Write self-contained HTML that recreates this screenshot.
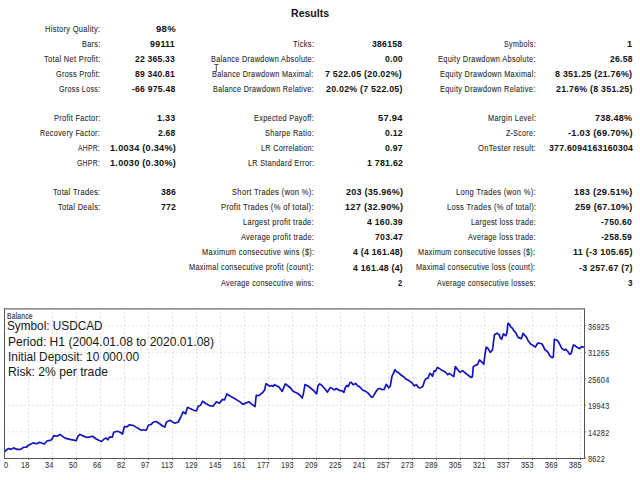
<!DOCTYPE html>
<html><head><meta charset="utf-8"><style>
html,body{margin:0;padding:0;background:#fff;width:640px;height:480px;overflow:hidden;position:relative}
.t{position:absolute;white-space:nowrap;line-height:20px;font-family:"Liberation Sans",sans-serif;transform-origin:0 50%}
</style></head><body>
<svg width="640" height="480" style="position:absolute;left:0;top:0">
<g stroke="#d8d8d8" stroke-width="1" stroke-dasharray="1.6 2.4"><line x1="28.5" y1="308.5" x2="28.5" y2="458.5"/><line x1="52.5" y1="308.5" x2="52.5" y2="458.5"/><line x1="76.5" y1="308.5" x2="76.5" y2="458.5"/><line x1="100.5" y1="308.5" x2="100.5" y2="458.5"/><line x1="124.5" y1="308.5" x2="124.5" y2="458.5"/><line x1="148.5" y1="308.5" x2="148.5" y2="458.5"/><line x1="172.5" y1="308.5" x2="172.5" y2="458.5"/><line x1="196.5" y1="308.5" x2="196.5" y2="458.5"/><line x1="220.5" y1="308.5" x2="220.5" y2="458.5"/><line x1="244.5" y1="308.5" x2="244.5" y2="458.5"/><line x1="268.5" y1="308.5" x2="268.5" y2="458.5"/><line x1="292.5" y1="308.5" x2="292.5" y2="458.5"/><line x1="316.5" y1="308.5" x2="316.5" y2="458.5"/><line x1="340.5" y1="308.5" x2="340.5" y2="458.5"/><line x1="364.5" y1="308.5" x2="364.5" y2="458.5"/><line x1="388.5" y1="308.5" x2="388.5" y2="458.5"/><line x1="412.5" y1="308.5" x2="412.5" y2="458.5"/><line x1="436.5" y1="308.5" x2="436.5" y2="458.5"/><line x1="460.5" y1="308.5" x2="460.5" y2="458.5"/><line x1="484.5" y1="308.5" x2="484.5" y2="458.5"/><line x1="508.5" y1="308.5" x2="508.5" y2="458.5"/><line x1="532.5" y1="308.5" x2="532.5" y2="458.5"/><line x1="556.5" y1="308.5" x2="556.5" y2="458.5"/><line x1="580.5" y1="308.5" x2="580.5" y2="458.5"/><line x1="4.5" y1="325.8" x2="584.5" y2="325.8"/><line x1="4.5" y1="352.3" x2="584.5" y2="352.3"/><line x1="4.5" y1="378.8" x2="584.5" y2="378.8"/><line x1="4.5" y1="405.3" x2="584.5" y2="405.3"/><line x1="4.5" y1="431.8" x2="584.5" y2="431.8"/></g>
<polyline points="4.5,451.9 6.25,450 8.75,448.5 11.25,449.4 13.5,447.9 16.9,449.4 20.6,449.4 23.75,447.25 26.25,447.25 28.75,445 33.1,442.9 36.9,443.75 39.4,442.25 44.4,444 46.9,441 50,440.4 51.9,439.4 53.75,435.6 56.9,436.25 60,434.4 65,438.1 70,439.4 75,440.4 76.25,440.6 78.1,436 80,434.4 82.5,435.6 86.9,437.5 90,436.9 92.5,436.25 96.25,439 98.75,440.25 101.5,441.5 104.4,438.75 106.25,438.1 107.75,439.75 109.75,436.9 112.25,437.25 113.75,432.25 117.5,431.25 120,432.25 122.5,434 124.4,426.5 126.9,426.9 129.4,424.75 133.75,425.6 137.5,428.1 141.25,430.25 143.75,429.75 146.25,430.25 148.5,425 151.25,424.4 153.1,422.25 156.25,421.5 160,424 162.5,426 164.75,427.1 166.5,421.9 170,420.25 174.4,423.1 178.1,422.25 180.6,417.5 183.1,411.9 185.6,413.75 187.5,407.25 190.6,408.75 193.75,410.25 196.5,411 198.1,406.25 200.6,405.25 202.5,401.25 206.25,403.75 209.4,405.6 213.1,406.25 216.25,401.9 219.4,403.1 222.5,399.4 224.4,400 226.9,394 230,396 235,398.75 240,401.9 243.1,404.4 245.6,403.1 249,401.9 251.9,404.4 255,406.5 256.25,395.25 258.75,395.6 260,394.6 262.5,392.7 264.7,389.9 265.9,383.9 267.2,384.25 269.4,386.1 271.6,385.5 273.1,386.4 274.7,384.6 276.9,386.1 278.75,386.75 282.2,391.4 285.3,383.9 287.5,385.5 290.6,388 292.8,391.1 295.6,392.4 297.5,393.3 300,395.2 302.2,398 303.4,393.6 305,384.6 307.5,385.8 310.6,388 314.1,391.1 316.6,393.9 318.1,385.5 319.7,383.9 321.6,385.2 324.4,388.3 327.5,392.1 330.3,387.4 334.1,389.9 336.25,388.6 340,390.7 342.2,390.9 343.9,392.4 345.3,387.6 346.9,385.5 348.1,386.6 350,382.6 351.25,382.25 353.1,384.75 355.6,383.4 357.8,386 359.4,386.6 363.1,390.5 365,390.9 367.8,392.9 371.6,397.25 372.8,396.9 376.25,391.3 378.1,388.8 380,388.5 381.9,389.6 384.1,389.5 386.25,384.3 388.75,387.75 390.3,386.2 391.9,376.5 393.4,373.4 395,369.6 396.25,371.5 398.1,372.4 401.25,375.25 403.75,376.8 406.25,379.3 408.75,380.6 411.9,382.75 414.4,385.9 416.25,384.6 418.75,387.75 420,388 422.8,386.6 424.7,380.6 425.9,378.75 428.1,378.1 429.7,373.4 430.9,374.1 432.5,376.25 434.1,370.9 435.6,371.25 437.2,367.5 438.75,368.1 442.5,370.6 445.6,372.2 447.8,374.7 449.4,373.4 453.75,376.6 455.3,366.6 457.5,369.4 460,372.2 460.6,371.9 462.5,370.6 466.25,373.75 471.2,377.5 472.4,376.7 473.25,366.7 475.3,365.4 477.4,364.6 479.5,360 481.6,361.8 483.8,364.2 484.9,355 486.2,347.1 487.8,348.3 490.3,352.3 492.5,350 494.4,335 496.9,333.1 499.4,335 500,337.4 501.6,339.25 503.4,333.9 505.9,335.8 506.9,333 508,323.3 509.4,324.25 510.9,327.1 512.5,328.3 514.1,331.1 515.6,332.4 518.1,337.4 521.25,338.6 523.1,333.3 525,335.8 526.25,336.75 527.8,340.2 530.6,343.9 532.8,345.2 535.3,347.1 537.8,343 540,343.3 542.1,344 545.2,350.2 547.3,351.25 549.9,355.9 552,357.7 553.3,357 554.4,339.3 556.7,340 558.2,341.4 561.9,348.6 564.5,350.2 565.5,349.2 567.6,351.25 569.7,354.4 571.25,353.3 573.3,345 574.9,345.5 576.5,346.9 579.6,348.6 581.7,346.6 584.3,347.3" fill="none" stroke="#1414bc" stroke-width="1.7" stroke-linejoin="round"/>
<g stroke="#555" stroke-width="1"><line x1="4.5" y1="308.5" x2="4.5" y2="459.0"/><line x1="584.5" y1="308.5" x2="584.5" y2="459.0"/><line x1="4.5" y1="458.5" x2="584.5" y2="458.5"/></g><line x1="4.0" y1="308.9" x2="585.0" y2="308.9" stroke="#6a6a6a" stroke-width="1.3"/>
<g stroke="#6a6a6a" stroke-width="1"><line x1="584.5" y1="325.8" x2="586.0" y2="325.8"/><line x1="584.5" y1="352.3" x2="586.0" y2="352.3"/><line x1="584.5" y1="378.8" x2="586.0" y2="378.8"/><line x1="584.5" y1="405.3" x2="586.0" y2="405.3"/><line x1="584.5" y1="431.8" x2="586.0" y2="431.8"/><line x1="584.5" y1="458.3" x2="586.0" y2="458.3"/><line x1="28.5" y1="458.5" x2="28.5" y2="460.0"/><line x1="52.5" y1="458.5" x2="52.5" y2="460.0"/><line x1="76.5" y1="458.5" x2="76.5" y2="460.0"/><line x1="100.5" y1="458.5" x2="100.5" y2="460.0"/><line x1="124.5" y1="458.5" x2="124.5" y2="460.0"/><line x1="148.5" y1="458.5" x2="148.5" y2="460.0"/><line x1="172.5" y1="458.5" x2="172.5" y2="460.0"/><line x1="196.5" y1="458.5" x2="196.5" y2="460.0"/><line x1="220.5" y1="458.5" x2="220.5" y2="460.0"/><line x1="244.5" y1="458.5" x2="244.5" y2="460.0"/><line x1="268.5" y1="458.5" x2="268.5" y2="460.0"/><line x1="292.5" y1="458.5" x2="292.5" y2="460.0"/><line x1="316.5" y1="458.5" x2="316.5" y2="460.0"/><line x1="340.5" y1="458.5" x2="340.5" y2="460.0"/><line x1="364.5" y1="458.5" x2="364.5" y2="460.0"/><line x1="388.5" y1="458.5" x2="388.5" y2="460.0"/><line x1="412.5" y1="458.5" x2="412.5" y2="460.0"/><line x1="436.5" y1="458.5" x2="436.5" y2="460.0"/><line x1="460.5" y1="458.5" x2="460.5" y2="460.0"/><line x1="484.5" y1="458.5" x2="484.5" y2="460.0"/><line x1="508.5" y1="458.5" x2="508.5" y2="460.0"/><line x1="532.5" y1="458.5" x2="532.5" y2="460.0"/><line x1="556.5" y1="458.5" x2="556.5" y2="460.0"/><line x1="580.5" y1="458.5" x2="580.5" y2="460.0"/></g>
</svg>
<div class="t" style="top:18.74px;left:44.96px;transform:scaleX(0.7919);font-size:9.4px;letter-spacing:0.4px;color:#2a2a2a;-webkit-text-stroke:0.1px #2a2a2a">History Quality:</div>
<div class="t" style="top:18.88px;left:155.80px;transform:scaleX(1.0667);font-size:9px;letter-spacing:0.25px;font-weight:bold;color:#111">98%</div>
<div class="t" style="top:33.84px;left:81.72px;transform:scaleX(0.7773);font-size:9.4px;letter-spacing:0.4px;color:#2a2a2a;-webkit-text-stroke:0.1px #2a2a2a">Bars:</div>
<div class="t" style="top:33.98px;left:150.30px;transform:scaleX(0.9880);font-size:9px;letter-spacing:0.25px;font-weight:bold;color:#111">99111</div>
<div class="t" style="top:48.94px;left:43.70px;transform:scaleX(0.7986);font-size:9.4px;letter-spacing:0.4px;color:#2a2a2a;-webkit-text-stroke:0.1px #2a2a2a">Total Net Profit:</div>
<div class="t" style="top:49.08px;left:135.20px;transform:scaleX(0.9476);font-size:9px;letter-spacing:0.25px;font-weight:bold;color:#111">22 365.33</div>
<div class="t" style="top:64.04px;left:56.23px;transform:scaleX(0.7745);font-size:9.4px;letter-spacing:0.4px;color:#2a2a2a;-webkit-text-stroke:0.1px #2a2a2a">Gross Profit:</div>
<div class="t" style="top:64.18px;left:135.20px;transform:scaleX(0.9476);font-size:9px;letter-spacing:0.25px;font-weight:bold;color:#111">89 340.81</div>
<div class="t" style="top:79.14px;left:59.24px;transform:scaleX(0.7615);font-size:9.4px;letter-spacing:0.4px;color:#2a2a2a;-webkit-text-stroke:0.1px #2a2a2a">Gross Loss:</div>
<div class="t" style="top:79.28px;left:132.00px;transform:scaleX(0.9556);font-size:9px;letter-spacing:0.25px;font-weight:bold;color:#111">-66 975.48</div>
<div class="t" style="top:33.84px;left:293.00px;transform:scaleX(0.8042);font-size:9.4px;letter-spacing:0.4px;color:#2a2a2a;-webkit-text-stroke:0.1px #2a2a2a">Ticks:</div>
<div class="t" style="top:33.98px;left:372.20px;transform:scaleX(0.9613);font-size:9px;letter-spacing:0.25px;font-weight:bold;color:#111">386158</div>
<div class="t" style="top:48.94px;left:210.82px;transform:scaleX(0.7808);font-size:9.4px;letter-spacing:0.4px;color:#2a2a2a;-webkit-text-stroke:0.1px #2a2a2a">Balance Drawdown Absolute:</div>
<div class="t" style="top:49.08px;left:384.70px;transform:scaleX(0.9611);font-size:9px;letter-spacing:0.25px;font-weight:bold;color:#111">0.00</div>
<div class="t" style="top:64.04px;left:212.22px;transform:scaleX(0.7760);font-size:9.4px;letter-spacing:0.4px;color:#2a2a2a;-webkit-text-stroke:0.1px #2a2a2a">Balance Drawdown Maximal:</div>
<div class="t" style="top:64.18px;left:325.30px;transform:scaleX(0.9833);font-size:9px;letter-spacing:0.25px;font-weight:bold;color:#111">7 522.05 (20.02%)</div>
<div class="t" style="top:79.14px;left:213.23px;transform:scaleX(0.7742);font-size:9.4px;letter-spacing:0.4px;color:#2a2a2a;-webkit-text-stroke:0.1px #2a2a2a">Balance Drawdown Relative:</div>
<div class="t" style="top:79.28px;left:325.60px;transform:scaleX(0.9795);font-size:9px;letter-spacing:0.25px;font-weight:bold;color:#111">20.02% (7 522.05)</div>
<div class="t" style="top:33.84px;left:503.63px;transform:scaleX(0.7650);font-size:9.4px;letter-spacing:0.4px;color:#2a2a2a;-webkit-text-stroke:0.1px #2a2a2a">Symbols:</div>
<div class="t" style="top:33.98px;left:626.88px;transform:scaleX(1.0250);font-size:9px;letter-spacing:0.25px;font-weight:bold;color:#111">1</div>
<div class="t" style="top:48.94px;left:438.01px;transform:scaleX(0.7885);font-size:9.4px;letter-spacing:0.4px;color:#2a2a2a;-webkit-text-stroke:0.1px #2a2a2a">Equity Drawdown Absolute:</div>
<div class="t" style="top:49.08px;left:610.00px;transform:scaleX(0.9565);font-size:9px;letter-spacing:0.25px;font-weight:bold;color:#111">26.58</div>
<div class="t" style="top:64.04px;left:439.52px;transform:scaleX(0.7826);font-size:9.4px;letter-spacing:0.4px;color:#2a2a2a;-webkit-text-stroke:0.1px #2a2a2a">Equity Drawdown Maximal:</div>
<div class="t" style="top:64.18px;left:555.00px;transform:scaleX(0.9872);font-size:9px;letter-spacing:0.25px;font-weight:bold;color:#111">8 351.25 (21.76%)</div>
<div class="t" style="top:79.14px;left:440.42px;transform:scaleX(0.7817);font-size:9.4px;letter-spacing:0.4px;color:#2a2a2a;-webkit-text-stroke:0.1px #2a2a2a">Equity Drawdown Relative:</div>
<div class="t" style="top:79.28px;left:555.60px;transform:scaleX(0.9795);font-size:9px;letter-spacing:0.25px;font-weight:bold;color:#111">21.76% (8 351.25)</div>
<div class="t" style="top:107.74px;left:53.91px;transform:scaleX(0.7877);font-size:9.4px;letter-spacing:0.4px;color:#2a2a2a;-webkit-text-stroke:0.1px #2a2a2a">Profit Factor:</div>
<div class="t" style="top:107.88px;left:157.11px;transform:scaleX(0.9941);font-size:9px;letter-spacing:0.25px;font-weight:bold;color:#111">1.33</div>
<div class="t" style="top:122.84px;left:40.13px;transform:scaleX(0.7724);font-size:9.4px;letter-spacing:0.4px;color:#2a2a2a;-webkit-text-stroke:0.1px #2a2a2a">Recovery Factor:</div>
<div class="t" style="top:122.98px;left:158.10px;transform:scaleX(0.9389);font-size:9px;letter-spacing:0.25px;font-weight:bold;color:#111">2.68</div>
<div class="t" style="top:137.94px;left:78.10px;transform:scaleX(0.7167);font-size:9.4px;letter-spacing:0.4px;color:#2a2a2a;-webkit-text-stroke:0.1px #2a2a2a">AHPR:</div>
<div class="t" style="top:138.08px;left:109.98px;transform:scaleX(1.0159);font-size:9px;letter-spacing:0.25px;font-weight:bold;color:#111">1.0034 (0.34%)</div>
<div class="t" style="top:153.04px;left:76.97px;transform:scaleX(0.7300);font-size:9.4px;letter-spacing:0.4px;color:#2a2a2a;-webkit-text-stroke:0.1px #2a2a2a">GHPR:</div>
<div class="t" style="top:153.18px;left:109.98px;transform:scaleX(1.0159);font-size:9px;letter-spacing:0.25px;font-weight:bold;color:#111">1.0030 (0.30%)</div>
<div class="t" style="top:107.74px;left:253.92px;transform:scaleX(0.7787);font-size:9.4px;letter-spacing:0.4px;color:#2a2a2a;-webkit-text-stroke:0.1px #2a2a2a">Expected Payoff:</div>
<div class="t" style="top:107.88px;left:377.95px;transform:scaleX(1.0455);font-size:9px;letter-spacing:0.25px;font-weight:bold;color:#111">57.94</div>
<div class="t" style="top:122.84px;left:265.21px;transform:scaleX(0.7850);font-size:9.4px;letter-spacing:0.4px;color:#2a2a2a;-webkit-text-stroke:0.1px #2a2a2a">Sharpe Ratio:</div>
<div class="t" style="top:122.98px;left:384.70px;transform:scaleX(0.9611);font-size:9px;letter-spacing:0.25px;font-weight:bold;color:#111">0.12</div>
<div class="t" style="top:137.94px;left:260.73px;transform:scaleX(0.7701);font-size:9.4px;letter-spacing:0.4px;color:#2a2a2a;-webkit-text-stroke:0.1px #2a2a2a">LR Correlation:</div>
<div class="t" style="top:138.08px;left:384.70px;transform:scaleX(0.9611);font-size:9px;letter-spacing:0.25px;font-weight:bold;color:#111">0.97</div>
<div class="t" style="top:153.04px;left:247.53px;transform:scaleX(0.7714);font-size:9.4px;letter-spacing:0.4px;color:#2a2a2a;-webkit-text-stroke:0.1px #2a2a2a">LR Standard Error:</div>
<div class="t" style="top:153.18px;left:366.82px;transform:scaleX(0.9771);font-size:9px;letter-spacing:0.25px;font-weight:bold;color:#111">1 781.62</div>
<div class="t" style="top:107.74px;left:487.92px;transform:scaleX(0.7847);font-size:9.4px;letter-spacing:0.4px;color:#2a2a2a;-webkit-text-stroke:0.1px #2a2a2a">Margin Level:</div>
<div class="t" style="top:107.88px;left:595.00px;transform:scaleX(1.0000);font-size:9px;letter-spacing:0.25px;font-weight:bold;color:#111">738.48%</div>
<div class="t" style="top:122.84px;left:506.40px;transform:scaleX(0.7526);font-size:9.4px;letter-spacing:0.4px;color:#2a2a2a;-webkit-text-stroke:0.1px #2a2a2a">Z-Score:</div>
<div class="t" style="top:122.98px;left:568.30px;transform:scaleX(1.0274);font-size:9px;letter-spacing:0.25px;font-weight:bold;color:#111">-1.03 (69.70%)</div>
<div class="t" style="top:137.94px;left:478.30px;transform:scaleX(0.7986);font-size:9.4px;letter-spacing:0.4px;color:#2a2a2a;-webkit-text-stroke:0.1px #2a2a2a">OnTester result:</div>
<div class="t" style="top:138.08px;left:548.60px;transform:scaleX(0.9698);font-size:9px;letter-spacing:0.25px;font-weight:bold;color:#111">377.6094163160304</div>
<div class="t" style="top:181.74px;left:52.79px;transform:scaleX(0.8070);font-size:9.4px;letter-spacing:0.4px;color:#2a2a2a;-webkit-text-stroke:0.1px #2a2a2a">Total Trades:</div>
<div class="t" style="top:181.88px;left:160.60px;transform:scaleX(0.9600);font-size:9px;letter-spacing:0.25px;font-weight:bold;color:#111">386</div>
<div class="t" style="top:196.89px;left:57.61px;transform:scaleX(0.7923);font-size:9.4px;letter-spacing:0.4px;color:#2a2a2a;-webkit-text-stroke:0.1px #2a2a2a">Total Deals:</div>
<div class="t" style="top:197.03px;left:160.60px;transform:scaleX(0.9600);font-size:9px;letter-spacing:0.25px;font-weight:bold;color:#111">772</div>
<div class="t" style="top:181.74px;left:231.69px;transform:scaleX(0.8060);font-size:9.4px;letter-spacing:0.4px;color:#2a2a2a;-webkit-text-stroke:0.1px #2a2a2a">Short Trades (won %):</div>
<div class="t" style="top:181.88px;left:345.80px;transform:scaleX(1.0036);font-size:9px;letter-spacing:0.25px;font-weight:bold;color:#111">203 (35.96%)</div>
<div class="t" style="top:196.89px;left:221.39px;transform:scaleX(0.8116);font-size:9.4px;letter-spacing:0.4px;color:#2a2a2a;-webkit-text-stroke:0.1px #2a2a2a">Profit Trades (% of total):</div>
<div class="t" style="top:197.03px;left:344.78px;transform:scaleX(1.0218);font-size:9px;letter-spacing:0.25px;font-weight:bold;color:#111">127 (32.90%)</div>
<div class="t" style="top:212.04px;left:242.71px;transform:scaleX(0.7909);font-size:9.4px;letter-spacing:0.4px;color:#2a2a2a;-webkit-text-stroke:0.1px #2a2a2a">Largest profit trade:</div>
<div class="t" style="top:212.18px;left:367.20px;transform:scaleX(0.9667);font-size:9px;letter-spacing:0.25px;font-weight:bold;color:#111">4 160.39</div>
<div class="t" style="top:227.19px;left:240.80px;transform:scaleX(0.7859);font-size:9.4px;letter-spacing:0.4px;color:#2a2a2a;-webkit-text-stroke:0.1px #2a2a2a">Average profit trade:</div>
<div class="t" style="top:227.33px;left:374.90px;transform:scaleX(0.9679);font-size:9px;letter-spacing:0.25px;font-weight:bold;color:#111">703.47</div>
<div class="t" style="top:242.34px;left:201.71px;transform:scaleX(0.7900);font-size:9.4px;letter-spacing:0.4px;color:#2a2a2a;-webkit-text-stroke:0.1px #2a2a2a">Maximum consecutive wins ($):</div>
<div class="t" style="top:242.48px;left:352.50px;transform:scaleX(0.9706);font-size:9px;letter-spacing:0.25px;font-weight:bold;color:#111">4 (4 161.48)</div>
<div class="t" style="top:257.49px;left:189.01px;transform:scaleX(0.7854);font-size:9.4px;letter-spacing:0.4px;color:#2a2a2a;-webkit-text-stroke:0.1px #2a2a2a">Maximal consecutive profit (count):</div>
<div class="t" style="top:257.63px;left:352.50px;transform:scaleX(0.9706);font-size:9px;letter-spacing:0.25px;font-weight:bold;color:#111">4 161.48 (4)</div>
<div class="t" style="top:272.64px;left:220.90px;transform:scaleX(0.7683);font-size:9.4px;letter-spacing:0.4px;color:#2a2a2a;-webkit-text-stroke:0.1px #2a2a2a">Average consecutive wins:</div>
<div class="t" style="top:272.78px;left:397.80px;transform:scaleX(0.8400);font-size:9px;letter-spacing:0.25px;font-weight:bold;color:#111">2</div>
<div class="t" style="top:181.74px;left:455.60px;transform:scaleX(0.8020);font-size:9.4px;letter-spacing:0.4px;color:#2a2a2a;-webkit-text-stroke:0.1px #2a2a2a">Long Trades (won %):</div>
<div class="t" style="top:181.88px;left:574.37px;transform:scaleX(1.0291);font-size:9px;letter-spacing:0.25px;font-weight:bold;color:#111">183 (29.51%)</div>
<div class="t" style="top:196.89px;left:446.80px;transform:scaleX(0.8018);font-size:9.4px;letter-spacing:0.4px;color:#2a2a2a;-webkit-text-stroke:0.1px #2a2a2a">Loss Trades (% of total):</div>
<div class="t" style="top:197.03px;left:575.40px;transform:scaleX(1.0107);font-size:9px;letter-spacing:0.25px;font-weight:bold;color:#111">259 (67.10%)</div>
<div class="t" style="top:212.04px;left:470.53px;transform:scaleX(0.7675);font-size:9.4px;letter-spacing:0.4px;color:#2a2a2a;-webkit-text-stroke:0.1px #2a2a2a">Largest loss trade:</div>
<div class="t" style="top:212.18px;left:601.30px;transform:scaleX(0.9594);font-size:9px;letter-spacing:0.25px;font-weight:bold;color:#111">-750.60</div>
<div class="t" style="top:227.19px;left:468.00px;transform:scaleX(0.7701);font-size:9.4px;letter-spacing:0.4px;color:#2a2a2a;-webkit-text-stroke:0.1px #2a2a2a">Average loss trade:</div>
<div class="t" style="top:227.33px;left:601.30px;transform:scaleX(0.9594);font-size:9px;letter-spacing:0.25px;font-weight:bold;color:#111">-258.59</div>
<div class="t" style="top:242.34px;left:418.42px;transform:scaleX(0.7772);font-size:9.4px;letter-spacing:0.4px;color:#2a2a2a;-webkit-text-stroke:0.1px #2a2a2a">Maximum consecutive losses ($):</div>
<div class="t" style="top:242.48px;left:572.90px;transform:scaleX(1.0017);font-size:9px;letter-spacing:0.25px;font-weight:bold;color:#111">11 (-3 105.65)</div>
<div class="t" style="top:257.49px;left:416.22px;transform:scaleX(0.7763);font-size:9.4px;letter-spacing:0.4px;color:#2a2a2a;-webkit-text-stroke:0.1px #2a2a2a">Maximal consecutive loss (count):</div>
<div class="t" style="top:257.63px;left:579.00px;transform:scaleX(0.9815);font-size:9px;letter-spacing:0.25px;font-weight:bold;color:#111">-3 257.67 (7)</div>
<div class="t" style="top:272.64px;left:437.40px;transform:scaleX(0.7625);font-size:9.4px;letter-spacing:0.4px;color:#2a2a2a;-webkit-text-stroke:0.1px #2a2a2a">Average consecutive losses:</div>
<div class="t" style="top:272.78px;left:627.50px;transform:scaleX(0.9000);font-size:9px;letter-spacing:0.25px;font-weight:bold;color:#111">3</div>
<div class="t" style="top:3.06px;left:290.99px;transform:scaleX(1.0056);font-size:10.5px;font-weight:bold;color:#111">Results</div>
<div class="t" style="top:306.12px;left:6.52px;transform:scaleX(0.7774);font-size:8.6px;letter-spacing:0.3px;color:#303048;-webkit-text-stroke:0.15px #303048">Balance</div>
<div class="t" style="top:315.84px;left:7.02px;transform:scaleX(0.9818);font-size:12px;color:#161616">Symbol: USDCAD</div>
<div class="t" style="top:331.64px;left:7.74px;transform:scaleX(1.0062);font-size:12px;color:#161616">Period: H1 (2004.01.08 to 2020.01.08)</div>
<div class="t" style="top:347.04px;left:7.76px;transform:scaleX(0.9924);font-size:12px;color:#161616">Initial Deposit: 10 000.00</div>
<div class="t" style="top:361.54px;left:7.74px;transform:scaleX(1.0119);font-size:12px;color:#161616">Risk: 2% per trade</div>
<div class="t" style="top:454.97px;left:4.46px;transform:scaleX(0.7400);font-size:9.9px;letter-spacing:0.3px;color:#363636;-webkit-text-stroke:0.1px #363636">0</div>
<div class="t" style="top:454.97px;left:20.56px;transform:scaleX(0.7400);font-size:9.9px;letter-spacing:0.3px;color:#363636;-webkit-text-stroke:0.1px #363636">18</div>
<div class="t" style="top:454.97px;left:45.30px;transform:scaleX(0.7400);font-size:9.9px;letter-spacing:0.3px;color:#363636;-webkit-text-stroke:0.1px #363636">34</div>
<div class="t" style="top:454.97px;left:68.56px;transform:scaleX(0.7400);font-size:9.9px;letter-spacing:0.3px;color:#363636;-webkit-text-stroke:0.1px #363636">50</div>
<div class="t" style="top:454.97px;left:92.56px;transform:scaleX(0.7400);font-size:9.9px;letter-spacing:0.3px;color:#363636;-webkit-text-stroke:0.1px #363636">66</div>
<div class="t" style="top:454.97px;left:116.56px;transform:scaleX(0.7400);font-size:9.9px;letter-spacing:0.3px;color:#363636;-webkit-text-stroke:0.1px #363636">82</div>
<div class="t" style="top:454.97px;left:140.56px;transform:scaleX(0.7400);font-size:9.9px;letter-spacing:0.3px;color:#363636;-webkit-text-stroke:0.1px #363636">97</div>
<div class="t" style="top:454.97px;left:160.86px;transform:scaleX(0.7400);font-size:9.9px;letter-spacing:0.3px;color:#363636;-webkit-text-stroke:0.1px #363636">113</div>
<div class="t" style="top:454.97px;left:184.86px;transform:scaleX(0.7400);font-size:9.9px;letter-spacing:0.3px;color:#363636;-webkit-text-stroke:0.1px #363636">129</div>
<div class="t" style="top:454.97px;left:208.86px;transform:scaleX(0.7400);font-size:9.9px;letter-spacing:0.3px;color:#363636;-webkit-text-stroke:0.1px #363636">145</div>
<div class="t" style="top:454.97px;left:232.86px;transform:scaleX(0.7400);font-size:9.9px;letter-spacing:0.3px;color:#363636;-webkit-text-stroke:0.1px #363636">161</div>
<div class="t" style="top:454.97px;left:256.86px;transform:scaleX(0.7400);font-size:9.9px;letter-spacing:0.3px;color:#363636;-webkit-text-stroke:0.1px #363636">177</div>
<div class="t" style="top:454.97px;left:280.86px;transform:scaleX(0.7400);font-size:9.9px;letter-spacing:0.3px;color:#363636;-webkit-text-stroke:0.1px #363636">193</div>
<div class="t" style="top:454.97px;left:304.86px;transform:scaleX(0.7400);font-size:9.9px;letter-spacing:0.3px;color:#363636;-webkit-text-stroke:0.1px #363636">209</div>
<div class="t" style="top:454.97px;left:328.86px;transform:scaleX(0.7400);font-size:9.9px;letter-spacing:0.3px;color:#363636;-webkit-text-stroke:0.1px #363636">225</div>
<div class="t" style="top:454.97px;left:352.86px;transform:scaleX(0.7400);font-size:9.9px;letter-spacing:0.3px;color:#363636;-webkit-text-stroke:0.1px #363636">241</div>
<div class="t" style="top:454.97px;left:376.86px;transform:scaleX(0.7400);font-size:9.9px;letter-spacing:0.3px;color:#363636;-webkit-text-stroke:0.1px #363636">257</div>
<div class="t" style="top:454.97px;left:400.86px;transform:scaleX(0.7400);font-size:9.9px;letter-spacing:0.3px;color:#363636;-webkit-text-stroke:0.1px #363636">273</div>
<div class="t" style="top:454.97px;left:424.86px;transform:scaleX(0.7400);font-size:9.9px;letter-spacing:0.3px;color:#363636;-webkit-text-stroke:0.1px #363636">289</div>
<div class="t" style="top:454.97px;left:448.86px;transform:scaleX(0.7400);font-size:9.9px;letter-spacing:0.3px;color:#363636;-webkit-text-stroke:0.1px #363636">305</div>
<div class="t" style="top:454.97px;left:472.86px;transform:scaleX(0.7400);font-size:9.9px;letter-spacing:0.3px;color:#363636;-webkit-text-stroke:0.1px #363636">321</div>
<div class="t" style="top:454.97px;left:496.86px;transform:scaleX(0.7400);font-size:9.9px;letter-spacing:0.3px;color:#363636;-webkit-text-stroke:0.1px #363636">337</div>
<div class="t" style="top:454.97px;left:520.86px;transform:scaleX(0.7400);font-size:9.9px;letter-spacing:0.3px;color:#363636;-webkit-text-stroke:0.1px #363636">353</div>
<div class="t" style="top:454.97px;left:544.86px;transform:scaleX(0.7400);font-size:9.9px;letter-spacing:0.3px;color:#363636;-webkit-text-stroke:0.1px #363636">369</div>
<div class="t" style="top:454.97px;left:568.86px;transform:scaleX(0.7400);font-size:9.9px;letter-spacing:0.3px;color:#363636;-webkit-text-stroke:0.1px #363636">385</div>
<div class="t" style="top:316.77px;left:587.56px;transform:scaleX(0.7400);font-size:9.9px;letter-spacing:0.3px;color:#363636;-webkit-text-stroke:0.1px #363636">36925</div>
<div class="t" style="top:343.27px;left:587.56px;transform:scaleX(0.7400);font-size:9.9px;letter-spacing:0.3px;color:#363636;-webkit-text-stroke:0.1px #363636">31265</div>
<div class="t" style="top:369.77px;left:587.56px;transform:scaleX(0.7400);font-size:9.9px;letter-spacing:0.3px;color:#363636;-webkit-text-stroke:0.1px #363636">25604</div>
<div class="t" style="top:396.27px;left:587.56px;transform:scaleX(0.7400);font-size:9.9px;letter-spacing:0.3px;color:#363636;-webkit-text-stroke:0.1px #363636">19943</div>
<div class="t" style="top:422.77px;left:587.56px;transform:scaleX(0.7400);font-size:9.9px;letter-spacing:0.3px;color:#363636;-webkit-text-stroke:0.1px #363636">14282</div>
<div class="t" style="top:449.27px;left:587.56px;transform:scaleX(0.7400);font-size:9.9px;letter-spacing:0.3px;color:#363636;-webkit-text-stroke:0.1px #363636">8622</div>
<svg width="640" height="480" style="position:absolute;left:0;top:0">
<g stroke="#505050" stroke-width="1" fill="none">
<line x1="214.3" y1="64.5" x2="218.5" y2="64.5"/>
<line x1="216.3" y1="64.5" x2="216.3" y2="71.5"/>
<line x1="213.3" y1="71.5" x2="216.5" y2="71.5"/>
</g>
</svg>
</body></html>
